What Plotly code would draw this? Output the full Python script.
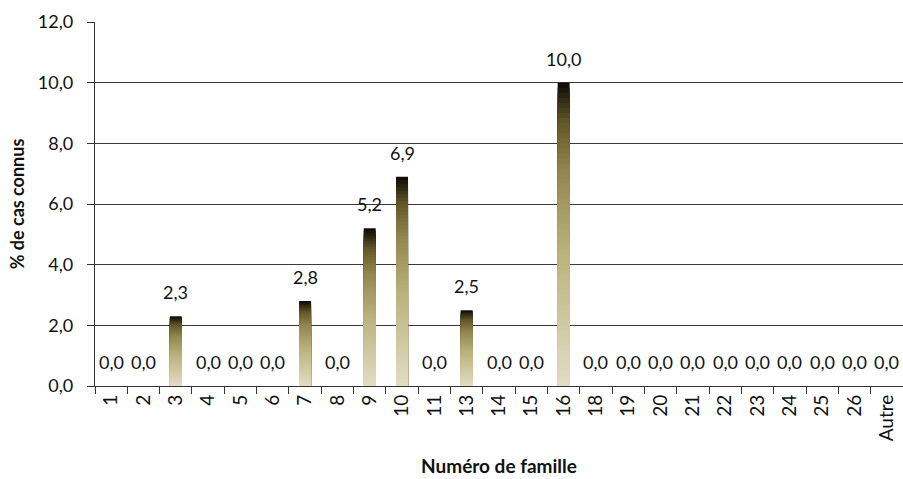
import plotly.graph_objects as go

categories = ["1", "2", "3", "4", "5", "6", "7", "8", "9", "10", "11", "13", "14",
              "15", "16", "18", "19", "20", "21", "22", "23", "24", "25", "26", "Autre"]
values = [0.0, 0.0, 2.3, 0.0, 0.0, 0.0, 2.8, 0.0, 5.2, 6.9, 0.0, 2.5, 0.0,
          0.0, 10.0, 0.0, 0.0, 0.0, 0.0, 0.0, 0.0, 0.0, 0.0, 0.0, 0.0]
y_ticks = [0, 2, 4, 6, 8, 10, 12]
y_tick_labels = ["0,0", "2,0", "4,0", "6,0", "8,0", "10,0", "12,0"]

FONT = "Lato"

# gradient stops (fraction of bar height -> rgb), bottom light beige to dark top
stops = [(0.0, (226, 222, 198)), (0.45, (186, 178, 124)), (0.72, (146, 134, 78)),
         (0.88, (98, 86, 40)), (1.0, (16, 14, 6))]


def grad_color(t):
    for (t0, c0), (t1, c1) in zip(stops[:-1], stops[1:]):
        if t0 <= t <= t1:
            f = (t - t0) / (t1 - t0) if t1 > t0 else 0
            return "rgb(%d,%d,%d)" % tuple(round(a + (b - a) * f) for a, b in zip(c0, c1))
    return "rgb(%d,%d,%d)" % stops[-1][1]


N = 60
fig = go.Figure()
# draw tallest first, then progressively shorter bars over them -> vertical gradient
for k in range(N):
    frac = (N - k) / N
    fig.add_trace(go.Bar(
        x=categories,
        y=[v * frac for v in values],
        width=0.37,
        marker=dict(color=grad_color(frac), line=dict(width=0)),
        hoverinfo="skip",
        showlegend=False,
    ))

for i, v in enumerate(values):
    fig.add_annotation(x=i, y=v, text=("%.1f" % v).replace(".", ","), showarrow=False,
                       yanchor="bottom", yshift=11, font=dict(family=FONT, size=18, color="#111"))

fig.update_layout(
    width=903, height=479,
    barmode="overlay",
    plot_bgcolor="white", paper_bgcolor="white",
    margin=dict(l=95, r=0, t=22, b=93),
    font=dict(family=FONT, size=18, color="#111"),
    xaxis=dict(
        type="category",
        range=[-0.5, len(categories) - 0.5],
        automargin=False,
        tickson="boundaries",
        ticks="outside", ticklen=7, tickcolor="#333", tickwidth=1.3,
        tickangle=-90,
        tickfont=dict(family=FONT, size=19, color="#111"),
        showline=True, linecolor="#333", linewidth=1.3,
        showgrid=False,
        title=dict(text="<b>Numéro de famille</b>", font=dict(family=FONT, size=19, color="#111"), standoff=19),
    ),
    yaxis=dict(
        range=[0, 12],
        automargin=False,
        tickvals=y_ticks, ticktext=y_tick_labels,
        ticks="outside", ticklen=7, tickcolor="#333", tickwidth=1.3,
        tickfont=dict(family=FONT, size=18, color="#111"),
        ticklabelstandoff=10,
        showline=True, linecolor="#333", linewidth=1.3,
        showgrid=True, gridcolor="#3a3a3a", gridwidth=1.2,
        zeroline=False,
        title=dict(text="<b>% de cas connus</b>", font=dict(family=FONT, size=18, color="#111"), standoff=8),
    ),
)

fig.write_html("out.html", config={"displayModeBar": False},
               post_script="document.body.style.margin='0';document.body.style.overflow='hidden';")
